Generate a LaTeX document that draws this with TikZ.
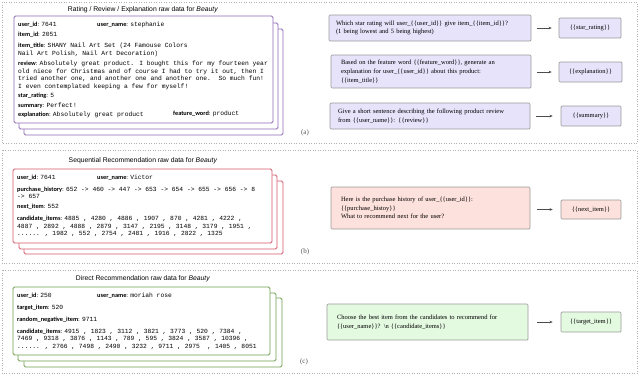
\documentclass[tikz,border=0pt]{standalone}
\usepackage{fontspec}
\setmainfont{Liberation Serif}
\setsansfont{Liberation Sans}
\newfontfamily\cardlabfont{Carlito}
\newfontfamily\cardmonofont{Liberation Mono}
\usetikzlibrary{arrows.meta}
\definecolor{cpurple}{HTML}{8C6AB5}
\definecolor{cred}{HTML}{D7566B}
\definecolor{cgreen}{HTML}{6E9F50}
\definecolor{flav}{HTML}{E6E3FA}
\definecolor{fpink}{HTML}{FDE1DC}
\definecolor{fgreen}{HTML}{E3FAE0}
\definecolor{bgray}{HTML}{9A9A9A}
\newcommand{\lb}[1]{{\cardlabfont\bfseries #1}}
\newcommand{\vl}[1]{{\cardmonofont #1}}
\begin{document}
\begin{tikzpicture}[x=1pt,y=-1pt,
  panel/.style={draw=gray!60, dotted, line width=0.5pt},
  card/.style={draw=#1, fill=white, line width=0.9pt, rounded corners=1.5pt},
  ttl/.style={inner sep=0pt, font=\sffamily\fontsize{6.8}{8}\selectfont},
  fld/.style={inner sep=0pt, anchor=west, font=\fontsize{6.3}{7.6}\selectfont, align=left},
  prompt/.style={draw=bgray, fill=#1, line width=0.7pt, rounded corners=1pt, inner xsep=0pt, inner ysep=0pt,
    font=\fontsize{6.5}{8.7}\selectfont, align=left},
  outbox/.style={draw=bgray, fill=#1, line width=0.7pt, rounded corners=1pt, inner sep=0pt,
    font=\fontsize{6.5}{8}\selectfont},
  arr/.style={-{Stealth[length=3pt,width=2.6pt]}, line width=0.9pt, draw=black!70},
  tag/.style={inner sep=0pt, font=\fontsize{7}{8}\selectfont, text=black!70}]
\useasboundingbox (0,0) rectangle (640,375);
% panels
\draw[panel] (2,2) rectangle (637,143);
\draw[panel] (2,150) rectangle (637,263);
\draw[panel] (2,270) rectangle (637,373);

%% ---------- (a) ----------
\node[ttl] (ta) at (143,10) {Rating / Review / Explanation raw data for \textit{Beauty}};
\draw[card=cpurple] (24,29) rectangle (283,135);
\draw[card=cpurple] (19,23) rectangle (278,129);
\draw[card=cpurple] (14,16) rectangle (273,123);
\node[fld] (a1) at (18,25) {\lb{user\_id}: \vl{7641}};
\node[fld] (a2) at (97,25) {\lb{user\_name}: \vl{stephanie}};
\node[fld] (a3) at (18,35) {\lb{item\_id}: \vl{2051}};
\node[fld] (a4) at (18,50) {\lb{item\_title}: \vl{SHANY Nail Art Set (24 Famouse Colors}\\\vl{Nail Art Polish, Nail Art Decoration)}};
\node[fld] (a5) at (18,75.5) {\lb{review}: \vl{Absolutely great product. I bought this for my fourteen year}\\\vl{old niece for Christmas and of course I had to try it out, then I}\\\vl{tried another one, and another one and another one.\ \ So much fun!}\\\vl{I even contemplated keeping a few for myself!}};
\node[fld] (a6) at (18,96) {\lb{star\_rating}: \vl{5}};
\node[fld] (a7) at (18,105.5) {\lb{summary}: \vl{Perfect!}};
\node[fld] (a8) at (18,115) {\lb{explanation}: \vl{Absolutely great product}};
\node[fld] (a9) at (173,114) {\lb{feature\_word}: \vl{product}};
\node[tag] (la) at (305,133) {(a)};

\node[prompt=flav, minimum width=202pt, minimum height=26pt, text width=188pt] (pa1) at (430,28)
  {Which star rating will user\_\{\{user\_id\}\} give item\_\{\{item\_id\}\}?\\(1 being lowest and 5 being highest)};
\node[outbox=flav, minimum width=62pt, minimum height=20pt] (oa1) at (590,28) {\{\{star\_rating\}\}};
\node[prompt=flav, minimum width=200pt, minimum height=33pt, text width=180pt] (pa2) at (431,71.5)
  {Based on the feature word \{\{feature\_word\}\}, generate an\\explanation for user\_\{\{user\_id\}\} about this product:\\\{\{item\_title\}\}};
\node[outbox=flav, minimum width=63pt, minimum height=20pt] (oa2) at (590.5,72) {\{\{explanation\}\}};
\node[prompt=flav, minimum width=200pt, minimum height=26pt, text width=184pt] (pa3) at (430,116)
  {Give a short sentence describing the following product review\\from \{\{user\_name\}\}: \{\{review\}\}};
\node[outbox=flav, minimum width=60pt, minimum height=20pt] (oa3) at (591,116) {\{\{summary\}\}};
\draw[arr, shorten <=6pt, shorten >=7pt] (pa1.east |- oa1) -- (oa1.west);
\draw[arr, shorten <=6pt, shorten >=7pt] (pa2.east |- oa2) -- (oa2.west);
\draw[arr, shorten <=6pt, shorten >=8pt] (pa3.east |- oa3) -- (oa3.west);

%% ---------- (b) ----------
\node[ttl] (tb) at (143,161) {Sequential Recommendation raw data for \textit{Beauty}};
\draw[card=cred] (24,181) rectangle (283,254);
\draw[card=cred] (19,175) rectangle (277,249);
\draw[card=cred] (13,169) rectangle (272,243);
\node[fld] (b1) at (17,178) {\lb{user\_id}: \vl{7641}};
\node[fld] (b2) at (97,178) {\lb{user\_name}: \vl{Victor}};
\node[fld] (b3) at (17,193) {\lb{purchase\_history}: \vl{652 -> 460 -> 447 -> 653 -> 654 -> 655 -> 656 -> 8}\\\vl{-> 657}};
\node[fld] (b4) at (17,207) {\lb{next\_item}: \vl{552}};
\node[fld] (b5) at (17,226.5) {\lb{candidate\_items}: \vl{4885 , 4280 , 4886 , 1907 , 870 , 4281 , 4222 ,}\\\vl{4887 , 2892 , 4888 , 2879 , 3147 , 2195 , 3148 , 3179 , 1951 ,}\\\vl{...... , 1982 , 552 , 2754 , 2481 , 1916 , 2822 , 1325}};
\node[tag] (lb) at (305,252) {(b)};

\node[prompt=fpink, minimum width=199pt, minimum height=42pt, text width=179pt] (pb1) at (430.5,208)
  {Here is the purchase history of user\_\{\{user\_id\}\}:\\\{\{purchase\_histoy\}\}\\What to recommend next for the user?};
\node[outbox=fpink, minimum width=60pt, minimum height=19pt] (ob1) at (591,209.5) {\{\{next\_item\}\}};
\draw[arr, shorten <=7pt, shorten >=8pt] (pb1.east |- ob1) -- (ob1.west);

%% ---------- (c) ----------
\node[ttl] (tc) at (143,279) {Direct Recommendation raw data for \textit{Beauty}};
\draw[card=cgreen] (24,298) rectangle (282,367);
\draw[card=cgreen] (18,293) rectangle (276,361);
\draw[card=cgreen] (13,287) rectangle (270,355);
\node[fld] (c1) at (17,296) {\lb{user\_id}: \vl{250}};
\node[fld] (c2) at (97,296) {\lb{user\_name}: \vl{moriah rose}};
\node[fld] (c3) at (17,308) {\lb{target\_item}: \vl{520}};
\node[fld] (c4) at (17,319.5) {\lb{random\_negative\_item}: \vl{9711}};
\node[fld] (c5) at (17,339) {\lb{candidate\_items}: \vl{4915 , 1823 , 3112 , 3821 , 3773 , 520 , 7384 ,}\\\vl{7469 , 9318 , 3876 , 1143 , 789 , 595 , 3824 , 3587 , 10396 ,}\\\vl{...... , 2766 , 7498 , 2490 , 3232 , 9711 , 2975\ \ , 1405 , 8051}};
\node[tag] (lc) at (304,362) {(c)};

\node[prompt=fgreen, minimum width=201pt, minimum height=36pt, text width=181pt] (pc1) at (427.5,322)
  {Choose the best item from the candidates to recommend for\\\{\{user\_name\}\}? \textbackslash n \{\{candidate\_items\}\}};
\node[outbox=fgreen, minimum width=60pt, minimum height=20pt] (oc1) at (591,322) {\{\{target\_item\}\}};
\draw[arr, shorten <=9pt, shorten >=8pt] (pc1.east |- oc1) -- (oc1.west);
\end{tikzpicture}
\end{document}
